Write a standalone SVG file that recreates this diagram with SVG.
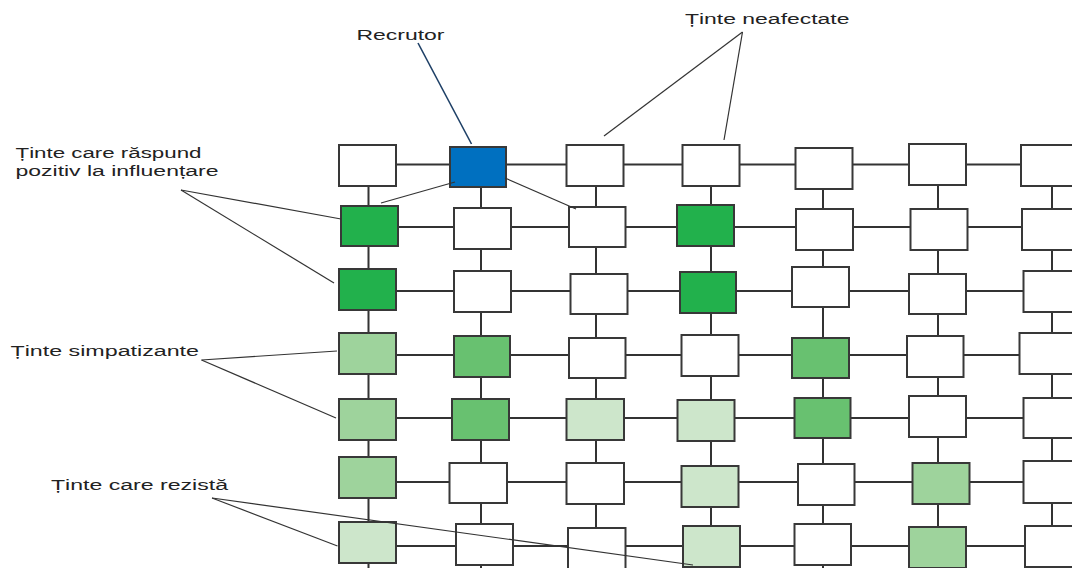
<svg xmlns="http://www.w3.org/2000/svg" width="1072" height="568" viewBox="0 0 1072 568">
<style>
.bx{stroke:#383838;stroke-width:2}
.w{fill:#ffffff}
.b{fill:#0070c0}
.g1{fill:#22b14c}
.g2{fill:#68c170}
.g3{fill:#9ed39c}
.g4{fill:#cde6cb}
.grid line{stroke:#333;stroke-width:2}
.ann line{stroke:#333;stroke-width:1.2}
text{font-family:"Liberation Sans",Arial,sans-serif;font-size:15.5px;fill:#222}
</style>
<rect width="1072" height="568" fill="#fff"/>
<g id="connectors">
<g class="grid">
<line x1="368.5" y1="164.5" x2="1072" y2="164.5"/>
<line x1="368.5" y1="227" x2="1072" y2="227"/>
<line x1="368.5" y1="291" x2="1072" y2="291"/>
<line x1="368.5" y1="355" x2="1072" y2="355"/>
<line x1="368.5" y1="418" x2="1072" y2="418"/>
<line x1="368.5" y1="482" x2="1072" y2="482"/>
<line x1="368.5" y1="546" x2="1072" y2="546"/>
<line x1="368.5" y1="164.5" x2="368.5" y2="568"/>
<line x1="481" y1="164.5" x2="481" y2="568"/>
<line x1="596" y1="164.5" x2="596" y2="568"/>
<line x1="711" y1="164.5" x2="711" y2="568"/>
<line x1="823" y1="164.5" x2="823" y2="568"/>
<line x1="938" y1="164.5" x2="938" y2="568"/>
<line x1="1052" y1="164.5" x2="1052" y2="568"/>
</g>
</g>
<g id="nodes">
<g id="r1c1"><rect class="bx w" x="339" y="145" width="57" height="41"/></g>
<g id="recrutor-node"><rect class="bx b" x="450" y="147" width="56" height="40"/></g>
<g id="r1c3"><rect class="bx w" x="566.5" y="145" width="57" height="41"/></g>
<g id="r1c4"><rect class="bx w" x="682.5" y="145" width="57" height="41"/></g>
<g id="r1c5"><rect class="bx w" x="795.5" y="148" width="57" height="41"/></g>
<g id="r1c6"><rect class="bx w" x="909" y="144" width="57" height="41"/></g>
<g id="r1c7"><rect class="bx w" x="1021" y="145" width="57" height="41"/></g>

<g id="r2c1"><rect class="bx g1" x="341" y="206" width="57" height="40"/></g>
<g id="r2c2"><rect class="bx w" x="454" y="208" width="57" height="41"/></g>
<g id="r2c3"><rect class="bx w" x="569" y="207" width="56.5" height="40"/></g>
<g id="r2c4"><rect class="bx g1" x="677" y="205" width="57" height="41"/></g>
<g id="r2c5"><rect class="bx w" x="796" y="209" width="57" height="41"/></g>
<g id="r2c6"><rect class="bx w" x="910.5" y="209" width="57" height="41"/></g>
<g id="r2c7"><rect class="bx w" x="1022" y="209" width="57" height="41"/></g>

<g id="r3c1"><rect class="bx g1" x="339" y="269" width="57" height="41"/></g>
<g id="r3c2"><rect class="bx w" x="454" y="271" width="57" height="41"/></g>
<g id="r3c3"><rect class="bx w" x="570.5" y="274" width="57" height="40"/></g>
<g id="r3c4"><rect class="bx g1" x="680" y="272" width="56" height="41"/></g>
<g id="r3c5"><rect class="bx w" x="792" y="267" width="57" height="40"/></g>
<g id="r3c6"><rect class="bx w" x="909" y="274" width="57" height="40"/></g>
<g id="r3c7"><rect class="bx w" x="1023.5" y="271" width="57" height="41"/></g>

<g id="r4c1"><rect class="bx g3" x="339" y="333" width="57" height="41"/></g>
<g id="r4c2"><rect class="bx g2" x="454" y="336" width="56" height="41"/></g>
<g id="r4c3"><rect class="bx w" x="569" y="338" width="56.5" height="40"/></g>
<g id="r4c4"><rect class="bx w" x="681.5" y="335" width="57" height="41"/></g>
<g id="r4c5"><rect class="bx g2" x="792" y="338" width="57" height="40"/></g>
<g id="r4c6"><rect class="bx w" x="907" y="336" width="56.5" height="41"/></g>
<g id="r4c7"><rect class="bx w" x="1019.5" y="333" width="57" height="41"/></g>

<g id="r5c1"><rect class="bx g3" x="339" y="399" width="57" height="41"/></g>
<g id="r5c2"><rect class="bx g2" x="452" y="399" width="57" height="41"/></g>
<g id="r5c3"><rect class="bx g4" x="566.5" y="399" width="57.5" height="41"/></g>
<g id="r5c4"><rect class="bx g4" x="677.5" y="400" width="57" height="41"/></g>
<g id="r5c5"><rect class="bx g2" x="794.5" y="398" width="56" height="40"/></g>
<g id="r5c6"><rect class="bx w" x="909" y="396" width="57" height="41"/></g>
<g id="r5c7"><rect class="bx w" x="1023.5" y="398" width="57" height="40"/></g>

<g id="r6c1"><rect class="bx g3" x="339" y="457" width="57" height="41"/></g>
<g id="r6c2"><rect class="bx w" x="449.5" y="463" width="57.5" height="40"/></g>
<g id="r6c3"><rect class="bx w" x="566.5" y="463" width="57.5" height="41"/></g>
<g id="r6c4"><rect class="bx g4" x="681.5" y="466" width="57" height="41"/></g>
<g id="r6c5"><rect class="bx w" x="798" y="464" width="56.5" height="41"/></g>
<g id="r6c6"><rect class="bx g3" x="912.5" y="463" width="57" height="41"/></g>
<g id="r6c7"><rect class="bx w" x="1023.5" y="461" width="57" height="42"/></g>

<g id="r7c1"><rect class="bx g4" x="339" y="522" width="57" height="41"/></g>
<g id="r7c2"><rect class="bx w" x="456" y="524" width="57" height="41"/></g>
<g id="r7c3"><rect class="bx w" x="568" y="528" width="57.5" height="41"/></g>
<g id="r7c4"><rect class="bx g4" x="683" y="526" width="57" height="41"/></g>
<g id="r7c5"><rect class="bx w" x="794.5" y="524" width="56.5" height="41"/></g>
<g id="r7c6"><rect class="bx g3" x="909" y="527" width="57" height="41"/></g>
<g id="r7c7"><rect class="bx w" x="1025" y="526" width="57" height="41"/></g>
</g>
<g id="annotations" class="ann">
<line x1="418" y1="43" x2="471.5" y2="144" style="stroke:#1d3f66;stroke-width:1.6"/>
<line x1="455" y1="182" x2="381" y2="203"/>
<line x1="505" y1="178" x2="576" y2="209"/>
<line x1="742.5" y1="32" x2="604" y2="136"/>
<line x1="742.5" y1="32" x2="724" y2="140"/>
<line x1="181" y1="190" x2="341" y2="219"/>
<line x1="181" y1="190" x2="334" y2="283"/>
<line x1="201.5" y1="360" x2="337" y2="351"/>
<line x1="201.5" y1="360" x2="336" y2="418"/>
<line x1="212" y1="498" x2="337.5" y2="546"/>
<line x1="212" y1="498" x2="693" y2="565"/>
</g>
<g id="labels">
<text x="356.5" y="40" textLength="88" lengthAdjust="spacingAndGlyphs">Recrutor</text>
<text x="685" y="24" textLength="164.5" lengthAdjust="spacingAndGlyphs">Ținte neafectate</text>
<text x="15.5" y="157.5" textLength="186" lengthAdjust="spacingAndGlyphs">Ținte care răspund</text>
<text x="15.5" y="176" textLength="203" lengthAdjust="spacingAndGlyphs">pozitiv la influențare</text>
<text x="10.5" y="355.5" textLength="188.5" lengthAdjust="spacingAndGlyphs">Ținte simpatizante</text>
<text x="51" y="489.5" textLength="177" lengthAdjust="spacingAndGlyphs">Ținte care rezistă</text>
</g>
</svg>
